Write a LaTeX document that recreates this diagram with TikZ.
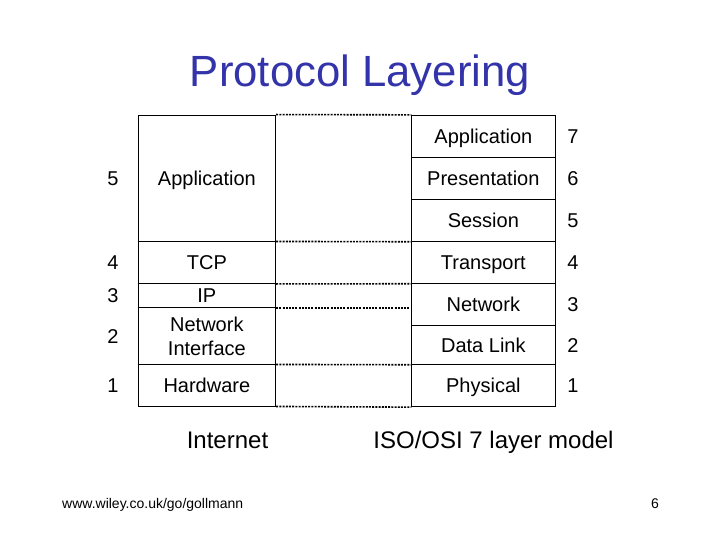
\documentclass[tikz,border=0pt]{standalone}
\usepackage{fontspec}
\setmainfont{Liberation Sans}
\definecolor{titleblue}{RGB}{51,51,170}
\begin{document}
\begin{tikzpicture}[x=1pt,y=-1pt,
  cell/.style={draw, line width=0.9pt, inner sep=0pt, font=\fontsize{20}{24}\selectfont, text height=14.3pt, text depth=0pt},
  lcell/.style={cell, minimum width=137.7pt},
  rcell/.style={cell, minimum width=143.3pt},
  num/.style={inner sep=0pt, font=\fontsize{20}{24}\selectfont, text height=14.3pt, text depth=0pt},
  lbl/.style={inner sep=0pt, anchor=base, font=\fontsize{24}{28}\selectfont},
  dots/.style={line width=1.6pt, dash pattern=on 2pt off 1.2pt}]
\useasboundingbox (0,0) rectangle (720,540);
% title
\node[anchor=base, inner sep=0pt, text=titleblue, font=\fontsize{43.7}{50}\selectfont] (title) at (360,87) {Protocol Layering};
% left (Internet) stack
\node[lcell, minimum height=126pt] (lapp) at (206.85,178) {Application};
\node[lcell, minimum height=42.5pt] (ltcp) at (206.85,262.25) {TCP};
\node[lcell, minimum height=24pt] (lip) at (206.85,295.5) {IP};
\node[lcell, minimum height=56.5pt] (lnif) at (206.85,335.75) {};
\node[inner sep=0pt, align=center, font=\fontsize{20}{24}\selectfont] (lniflbl) at (206.85,336.5) {Network\\Interface};
\node[lcell, minimum height=42pt] (lhw) at (206.85,385) {Hardware};
% right (OSI) stack
\node[rcell, minimum height=42pt] (rapp) at (483.35,136.3) {Application};
\node[rcell, minimum height=42pt] (rpre) at (483.35,178.3) {Presentation};
\node[rcell, minimum height=42pt] (rses) at (483.35,220.3) {Session};
\node[rcell, minimum height=42pt] (rtra) at (483.35,262.3) {Transport};
\node[rcell, minimum height=42.4pt] (rnet) at (483.35,304.5) {Network};
\node[rcell, minimum height=38.6pt] (rdl) at (483.35,345) {Data Link};
\node[rcell, minimum height=42.4pt] (rphy) at (483.35,385.5) {Physical};
% dotted connections
\draw[dots] (lapp.north east) -- (rapp.north west);
\draw[dots] (lapp.south east) -- (rses.south west);
\draw[dots] (ltcp.south east) -- (rtra.south west);
\draw[dots] (lip.south east) -- (lip.south east -| rnet.west);
\draw[dots] (lnif.south east) -- (rdl.south west);
\draw[dots] (lhw.south east) -- (rphy.south west);
% layer numbers, left
\node[num] (n5l) at (113,178) {5};
\node[num] (n4l) at (113,262) {4};
\node[num] (n3l) at (113,295.5) {3};
\node[num] (n2l) at (113,336.5) {2};
\node[num] (n1l) at (113,385.5) {1};
% layer numbers, right
\node[num] (n7r) at (573,136.3) {7};
\node[num] (n6r) at (573,178.3) {6};
\node[num] (n5r) at (573,220.3) {5};
\node[num] (n4r) at (573,262.3) {4};
\node[num] (n3r) at (573,304.5) {3};
\node[num] (n2r) at (573,345) {2};
\node[num] (n1r) at (573,385.5) {1};
% captions
\node[lbl] (inet) at (227.5,448) {Internet};
\node[lbl] (osi) at (493.5,448) {ISO/OSI 7 layer model};
\node[inner sep=0pt, anchor=base west, font=\fontsize{14}{16}\selectfont] (url) at (62,508) {www.wiley.co.uk/go/gollmann};
\node[inner sep=0pt, anchor=base, font=\fontsize{14}{16}\selectfont] (page) at (655,508) {6};
\end{tikzpicture}
\end{document}
